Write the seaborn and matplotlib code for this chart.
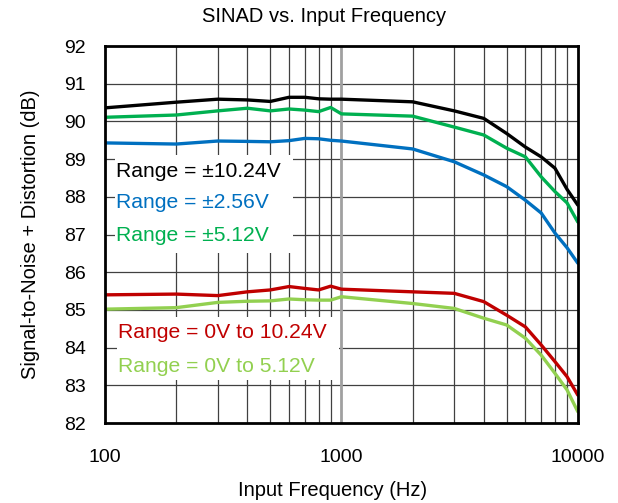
import matplotlib
matplotlib.use("Agg")
import matplotlib.pyplot as plt
import seaborn as sns
import pandas as pd
import numpy as np
from matplotlib.patches import Rectangle
from matplotlib.ticker import FixedLocator, NullFormatter

freq = [100, 200, 300, 400, 500, 600, 700, 800, 900, 1000,
        2000, 3000, 4000, 5000, 6000, 7000, 8000, 9000, 10000]
sinad_pm10 = [90.36, 90.51, 90.59, 90.57, 90.53, 90.64, 90.64, 90.60, 90.59, 90.59,
              90.52, 90.28, 90.08, 89.68, 89.32, 89.06, 88.76, 88.20, 87.78]
sinad_pm2 = [89.43, 89.40, 89.48, 89.47, 89.46, 89.49, 89.55, 89.54, 89.50, 89.48,
             89.27, 88.93, 88.58, 88.27, 87.91, 87.57, 87.04, 86.65, 86.24]
sinad_pm5 = [90.11, 90.17, 90.28, 90.35, 90.28, 90.33, 90.30, 90.26, 90.37, 90.20,
             90.14, 89.85, 89.64, 89.29, 89.06, 88.53, 88.14, 87.84, 87.33]
sinad_u10 = [85.40, 85.42, 85.38, 85.48, 85.53, 85.62, 85.57, 85.53, 85.63, 85.55,
             85.48, 85.44, 85.22, 84.86, 84.55, 84.07, 83.63, 83.23, 82.74]
sinad_u5 = [85.02, 85.06, 85.20, 85.23, 85.24, 85.29, 85.27, 85.26, 85.26, 85.35,
            85.17, 85.04, 84.78, 84.60, 84.25, 83.80, 83.32, 82.88, 82.30]

series_names = ["Range = ±10.24V", "Range = ±2.56V", "Range = ±5.12V",
                "Range = 0V to 10.24V", "Range = 0V to 5.12V"]
series_vals = [sinad_pm10, sinad_pm2, sinad_pm5, sinad_u10, sinad_u5]
colors = ["#000000", "#0070C0", "#00B050", "#C00000", "#92D050"]

yticks = [82, 83, 84, 85, 86, 87, 88, 89, 90, 91, 92]
xticks = [100, 1000, 10000]
xtick_labels = ["100", "1000", "10000"]

rows = []
for name, vals in zip(series_names, series_vals):
    for f, v in zip(freq, vals):
        rows.append({"freq": f, "sinad": v, "series": name})
df = pd.DataFrame(rows)

sns.set_theme(style="white")
plt.rcParams['font.family'] = ['Liberation Sans', 'DejaVu Sans']
plt.rcParams['lines.solid_joinstyle'] = 'round'
plt.rcParams['lines.solid_capstyle'] = 'round'

fig = plt.figure(figsize=(6.18, 5.03), dpi=100)
ax = fig.add_axes([0.170, 0.159, 0.765, 0.7495])

ax.set_xscale("log")
ax.set_xlim(100, 10000)
ax.set_ylim(82, 92)

# grid
gcol = "#404040"
for y in yticks[1:-1]:
    ax.axhline(y, color=gcol, lw=0.9, zorder=1)
minor_x = [m * d for d in (100, 1000) for m in range(2, 10)]
for x in minor_x:
    ax.axvline(x, color=gcol, lw=0.9, zorder=1)
ax.axvline(1000, color="#A0A0A0", lw=2.0, zorder=1)

sns.lineplot(data=df, x="freq", y="sinad", hue="series", palette=colors,
             hue_order=series_names, lw=2.4, legend=False, ax=ax, zorder=3)

ax.set_yticks(yticks)
ax.xaxis.set_major_locator(FixedLocator(xticks))
ax.set_xticklabels(xtick_labels)
ax.xaxis.set_minor_formatter(NullFormatter())
ax.xaxis.set_minor_locator(FixedLocator([]))
ax.tick_params(axis="both", length=0, labelsize=14, colors="black")
ax.tick_params(axis="y", pad=14)
ax.tick_params(axis="x", pad=19)

for s in ax.spines.values():
    s.set_color("black")
    s.set_linewidth(2)
    s.set_zorder(5)

ax.set_xlabel("Input Frequency (Hz)", fontsize=14.5, color="black", labelpad=10)
ax.xaxis.set_label_coords(0.482, -0.155)
ax.set_ylabel("Signal-to-Noise + Distortion (dB)", fontsize=14.5, color="black", labelpad=17)
ax.set_title("SINAD vs. Input Frequency", fontsize=14.5, color="black", x=0.463, pad=17)

W, H = 618, 503
def fig_rect(x0, y0, x1, y1):
    return Rectangle((x0 / W, 1 - y1 / H), (x1 - x0) / W, (y1 - y0) / H,
                     transform=fig.transFigure, facecolor="white",
                     edgecolor="none", zorder=2)

ax.add_patch(fig_rect(115, 155, 293, 253))
ax.add_patch(fig_rect(117, 317, 339, 380))

text_pos = [(116, 172), (116, 203), (116, 235), (118, 333), (118, 367)]
for (px, py), name, c in zip(text_pos, series_names, colors):
    ax.text(px / W, 1 - py / H, name, transform=fig.transFigure, color=c,
            fontsize=15.2, va="center", ha="left", zorder=4)

fig.savefig("out.png", dpi=100)
